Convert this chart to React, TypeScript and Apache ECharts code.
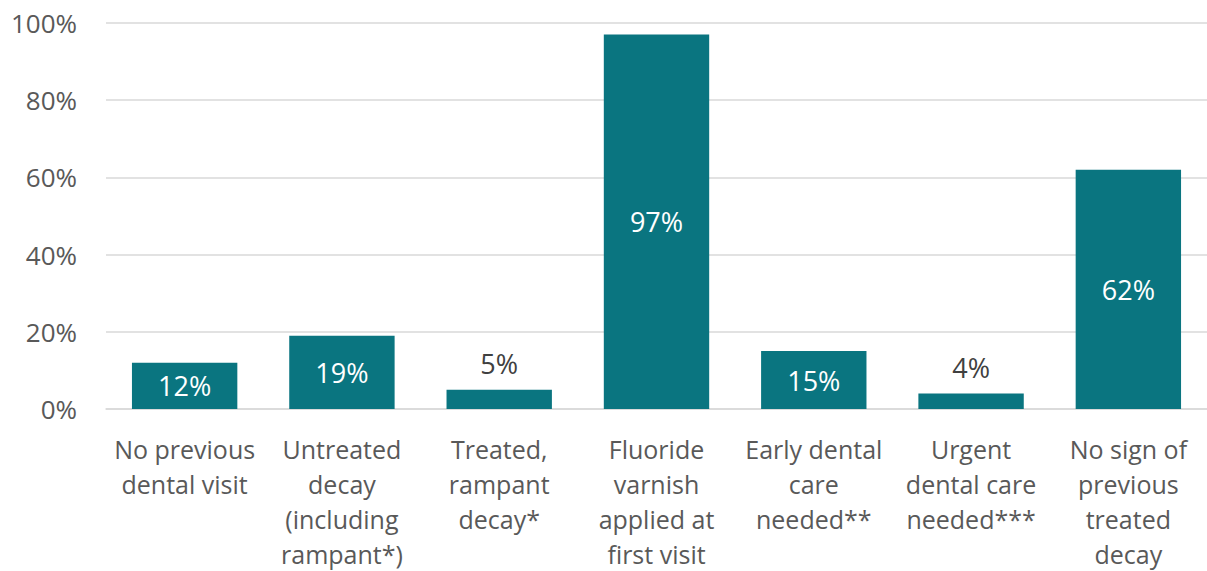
import React, { useEffect, useRef } from "react";
import * as echarts from "echarts";

const categories = [
  "No previous\ndental visit",
  "Untreated\ndecay\n(including\nrampant*)",
  "Treated,\nrampant\ndecay*",
  "Fluoride\nvarnish\napplied at\nfirst visit",
  "Early dental\ncare\nneeded**",
  "Urgent\ndental care\nneeded***",
  "No sign of\nprevious\ntreated\ndecay",
];
const values = [12, 19, 5, 97, 15, 4, 62];
const yTicks = [0, 20, 40, 60, 80, 100];

const FONT = "'Open Sans', 'Noto Sans', sans-serif";

export default function App() {
  const ref = useRef<HTMLDivElement>(null);
  useEffect(() => {
    if (!ref.current) return;
    const chart = echarts.init(ref.current, undefined, { renderer: "svg" });
    chart.setOption({
      animation: false,
      grid: { left: 106, top: 23, height: 391, width: 1106, containLabel: false },
      xAxis: {
        type: "category",
        data: categories,
        axisLine: { show: true, lineStyle: { color: "#d9d9d9", width: 1.5 } },
        axisTick: { show: false },
        axisLabel: {
          interval: 0,
          color: "#595959",
          fontFamily: FONT,
          fontSize: 25,
          lineHeight: 35,
          margin: 22,
          align: "center",
        },
      },
      yAxis: {
        type: "value",
        min: yTicks[0],
        max: yTicks[yTicks.length - 1],
        interval: 20,
        axisLine: { show: false },
        axisTick: { show: false },
        splitLine: { lineStyle: { color: "#d9d9d9", width: 1.5 } },
        axisLabel: {
          color: "#595959",
          fontFamily: FONT,
          fontSize: 26,
          margin: 29,
          formatter: (v: number) => v + "%",
        },
      },
      series: [
        {
          type: "bar",
          barWidth: "67%",
          itemStyle: { color: "#0A7580" },
          data: values.map((v) => ({
            value: v,
            label:
              v >= 10
                ? { show: true, position: "inside", color: "#ffffff" }
                : { show: true, position: "top", color: "#404040", distance: 13 },
          })),
          label: {
            show: true,
            fontFamily: FONT,
            fontSize: 27,
            formatter: (p: any) => p.value + "%",
          },
        },
      ],
    });
    return () => chart.dispose();
  }, []);
  return (
    <div
      ref={ref}
      style={{ position: "fixed", left: 0, top: 0, width: 1207, height: 571, background: "#fff" }}
    />
  );
}
